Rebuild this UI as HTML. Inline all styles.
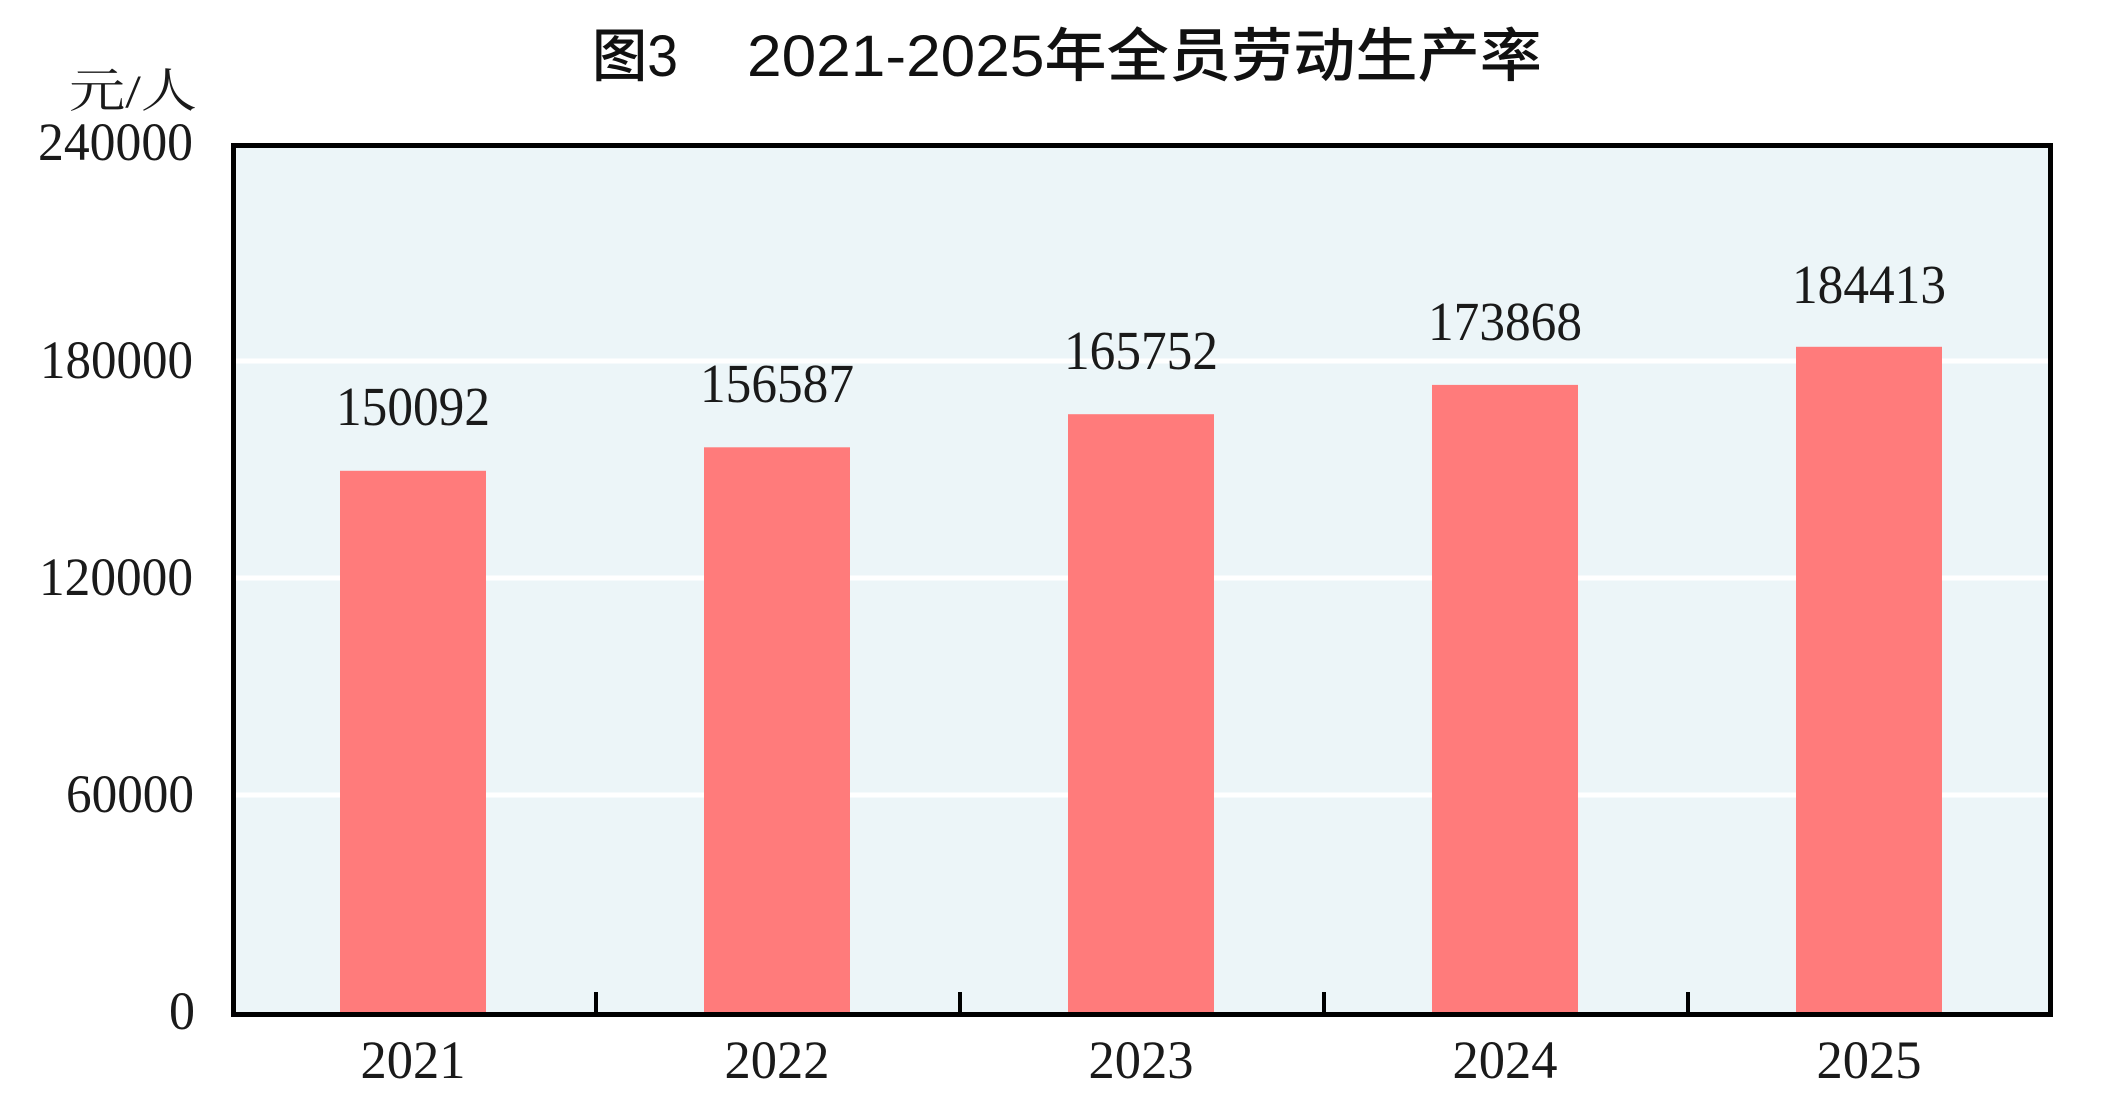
<!DOCTYPE html>
<html>
<head>
<meta charset="utf-8">
<style>
  html, body { margin: 0; padding: 0; background: #ffffff; }
  body { width: 2128px; height: 1120px; overflow: hidden; }
  svg { display: block; }
  .serif { font-family: "Liberation Serif", "Noto Serif CJK SC", serif; fill: #1a1a1a; }
  .sans { font-family: "Liberation Sans", "Noto Sans CJK SC", sans-serif; fill: #111111; font-weight: 500; }
</style>
</head>
<body>
<svg width="2128" height="1120" viewBox="0 0 2128 1120" xmlns="http://www.w3.org/2000/svg">
  <rect x="0" y="0" width="2128" height="1120" fill="#ffffff"/>

  <!-- Title -->
  <text class="sans" x="592" y="76" font-size="58" textLength="86" lengthAdjust="spacingAndGlyphs">图3</text>
  <text class="sans" x="747" y="76" font-size="58" textLength="795" lengthAdjust="spacingAndGlyphs">2021-2025年全员劳动生产率</text>

  <!-- Unit -->
  <text class="serif" x="69" y="107" font-size="47" textLength="128" lengthAdjust="spacingAndGlyphs">元/人</text>

  <!-- Plot background -->
  <rect x="236" y="148" width="1812" height="864" fill="#ECF5F8"/>

  <!-- Gridlines -->
  <line x1="236" y1="361" x2="2048" y2="361" stroke="#ffffff" stroke-width="5"/>
  <line x1="236" y1="578" x2="2048" y2="578" stroke="#ffffff" stroke-width="5"/>
  <line x1="236" y1="795" x2="2048" y2="795" stroke="#ffffff" stroke-width="5"/>

  <!-- Bars -->
  <rect x="340" y="470.8" width="146" height="542" fill="#FF7B7B"/>
  <rect x="704" y="447.3" width="146" height="566" fill="#FF7B7B"/>
  <rect x="1068" y="414.2" width="146" height="599" fill="#FF7B7B"/>
  <rect x="1432" y="384.9" width="146" height="628" fill="#FF7B7B"/>
  <rect x="1796" y="346.8" width="146" height="666" fill="#FF7B7B"/>

  <!-- Plot border -->
  <rect x="233.5" y="145.5" width="1817" height="869" fill="none" stroke="#000000" stroke-width="5"/>

  <!-- X ticks -->
  <line x1="596" y1="992" x2="596" y2="1013" stroke="#000000" stroke-width="4"/>
  <line x1="960" y1="992" x2="960" y2="1013" stroke="#000000" stroke-width="4"/>
  <line x1="1324" y1="992" x2="1324" y2="1013" stroke="#000000" stroke-width="4"/>
  <line x1="1688" y1="992" x2="1688" y2="1013" stroke="#000000" stroke-width="4"/>

  <!-- Y tick labels -->
  <text class="serif" x="193" y="160" font-size="54" text-anchor="end" textLength="155" lengthAdjust="spacingAndGlyphs">240000</text>
  <text class="serif" x="193" y="378" font-size="54" text-anchor="end" textLength="153" lengthAdjust="spacingAndGlyphs">180000</text>
  <text class="serif" x="193" y="595" font-size="54" text-anchor="end" textLength="154" lengthAdjust="spacingAndGlyphs">120000</text>
  <text class="serif" x="194" y="812" font-size="54" text-anchor="end" textLength="128" lengthAdjust="spacingAndGlyphs">60000</text>
  <text class="serif" x="195" y="1029" font-size="54" text-anchor="end" textLength="26" lengthAdjust="spacingAndGlyphs">0</text>

  <!-- X labels -->
  <text class="serif" x="413" y="1078" font-size="54" text-anchor="middle" textLength="105" lengthAdjust="spacingAndGlyphs">2021</text>
  <text class="serif" x="777" y="1078" font-size="54" text-anchor="middle" textLength="105" lengthAdjust="spacingAndGlyphs">2022</text>
  <text class="serif" x="1141" y="1078" font-size="54" text-anchor="middle" textLength="105" lengthAdjust="spacingAndGlyphs">2023</text>
  <text class="serif" x="1505" y="1078" font-size="54" text-anchor="middle" textLength="105" lengthAdjust="spacingAndGlyphs">2024</text>
  <text class="serif" x="1869" y="1078" font-size="54" text-anchor="middle" textLength="105" lengthAdjust="spacingAndGlyphs">2025</text>

  <!-- Value labels -->
  <text class="serif" x="413" y="425" font-size="55" text-anchor="middle" textLength="154" lengthAdjust="spacingAndGlyphs">150092</text>
  <text class="serif" x="777" y="402" font-size="55" text-anchor="middle" textLength="154" lengthAdjust="spacingAndGlyphs">156587</text>
  <text class="serif" x="1141" y="369" font-size="55" text-anchor="middle" textLength="154" lengthAdjust="spacingAndGlyphs">165752</text>
  <text class="serif" x="1505" y="340" font-size="55" text-anchor="middle" textLength="154" lengthAdjust="spacingAndGlyphs">173868</text>
  <text class="serif" x="1869" y="303" font-size="55" text-anchor="middle" textLength="154" lengthAdjust="spacingAndGlyphs">184413</text>
</svg>
</body>
</html>
